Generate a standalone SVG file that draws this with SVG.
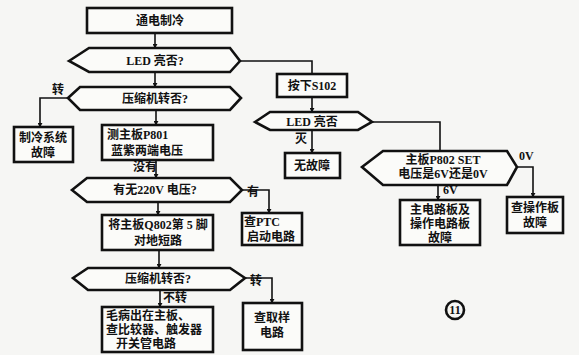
<svg xmlns="http://www.w3.org/2000/svg" width="579" height="355" viewBox="0 0 579 355">
<defs>
<marker id="ah" viewBox="0 0 6 6" refX="5" refY="3" markerWidth="5" markerHeight="5" orient="auto" markerUnits="userSpaceOnUse">
<path d="M0,0 L6,3 L0,6 z" fill="#111"/>
</marker>
<style>
.n{fill:#fbfbf9;stroke:#111;stroke-width:2.6}
.t{font-family:"Liberation Serif","Noto Sans CJK SC",serif;font-weight:bold;font-size:12px;fill:#111;text-anchor:middle}
.l{font-family:"Liberation Serif","Noto Sans CJK SC",serif;font-weight:bold;font-size:12px;fill:#111}
.c{fill:none;stroke:#111;stroke-width:1.6}
.a{marker-end:url(#ah)}
</style>
</defs>
<rect width="579" height="355" fill="#f6f6f4"/>
<g id="connectors">
<path class="c a" d="M155,33 V48"/>
<path class="c a" d="M155,72 V87"/>
<path class="c" d="M240,61 H312 V73"/>
<path class="c a" d="M68,98 H40 V127"/>
<path class="c a" d="M156,110 V125"/>
<path class="c a" d="M156,160 V178"/>
<path class="c a" d="M242,190 H269 V213"/>
<path class="c a" d="M158,202 V215"/>
<path class="c a" d="M159,250 V268"/>
<path class="c a" d="M245,278 H272 V303"/>
<path class="c a" d="M160,290 V307"/>
<path class="c a" d="M312,97 V112"/>
<path class="c a" d="M312,130 V153"/>
<path class="c" d="M372,122 H440 V151"/>
<path class="c a" d="M517,167 H533 V197"/>
<path class="c a" d="M438,185 V200"/>
</g>
<g id="n1"><rect class="n" x="87" y="8" width="145" height="25"/><text class="t" x="160" y="25">通电制冷</text></g>
<g id="n2"><polygon class="n" points="69,61 89,48 230,48 240,61 230,72 89,72"/><text class="t" x="155" y="65">LED 亮否?</text></g>
<g id="n3"><polygon class="n" points="68,98 80,87 230,87 241,98 230,110 80,110"/><text class="t" x="155" y="103">压缩机转否?</text></g>
<g id="n4"><rect class="n" x="14" y="127" width="59" height="35"/><text class="t" x="43" y="142">制冷系统</text><text class="t" x="43" y="157">故障</text></g>
<g id="n5"><rect class="n" x="102" y="125" width="111" height="35"/><text class="l" x="107" y="139">测主板P801</text><text class="l" x="111" y="155">蓝紫两端电压</text></g>
<g id="n6"><polygon class="n" points="72,190 87,178 230,178 242,190 230,202 87,202"/><text class="t" x="155" y="194">有无220V 电压?</text></g>
<g id="n7"><rect class="n" x="242" y="213" width="60" height="32"/><text class="l" x="244" y="226">查PTC</text><text class="l" x="247" y="241">启动电路</text></g>
<g id="n8"><rect class="n" x="102" y="215" width="111" height="35"/><text class="t" x="158" y="229">将主板Q802第 5 脚</text><text class="t" x="158" y="245">对地短路</text></g>
<g id="n9"><polygon class="n" points="73,278 88,268 230,268 245,278 230,290 88,290"/><text class="t" x="158" y="283">压缩机转否?</text></g>
<g id="n10"><rect class="n" x="243" y="303" width="59" height="47"/><text class="t" x="272" y="322">查取样</text><text class="t" x="272" y="337">电路</text></g>
<g id="n11"><rect class="n" x="102" y="307" width="111" height="45"/><text class="l" x="106" y="320">毛病出在主板、</text><text class="l" x="106" y="334">查比较器、触发器</text><text class="l" x="116" y="348">开关管电路</text></g>
<g id="n12"><rect class="n" x="277" y="74" width="70" height="23"/><text class="t" x="312" y="90">按下S102</text></g>
<g id="n13"><polygon class="n" points="255,122 270,112 358,112 372,122 358,130 270,130"/><text class="t" x="312" y="126">LED 亮否</text></g>
<g id="n14"><rect class="n" x="285" y="153" width="55" height="25"/><text class="t" x="312" y="170">无故障</text></g>
<g id="n15"><polygon class="n" points="362,167 383,151 507,151 517,167 507,185 383,185"/><text class="t" x="443" y="164">主板P802 SET</text><text class="t" x="443" y="178">电压是6V还是0V</text></g>
<g id="n16"><rect class="n" x="400" y="200" width="80" height="45"/><text class="t" x="440" y="214">主电路板及</text><text class="t" x="440" y="228">操作电路板</text><text class="t" x="440" y="242">故障</text></g>
<g id="n17"><rect class="n" x="507" y="197" width="56" height="36"/><text class="t" x="535" y="212">查操作板</text><text class="t" x="535" y="227">故障</text></g>
<g id="labels">
<text class="l" x="52" y="94">转</text>
<text class="l" x="133" y="171">没有</text>
<text class="l" x="247" y="196">有</text>
<text class="l" x="250" y="285">转</text>
<text class="l" x="163" y="302">不转</text>
<text class="l" x="295" y="143">灭</text>
<text class="l" x="443" y="194">6V</text>
<text class="l" x="519" y="160" font-size="14">0V</text>
</g>
<g id="fig"><circle cx="455" cy="310" r="9" fill="none" stroke="#111" stroke-width="2.6"/><text class="t" x="455" y="314" font-size="12">11</text></g>
</svg>
